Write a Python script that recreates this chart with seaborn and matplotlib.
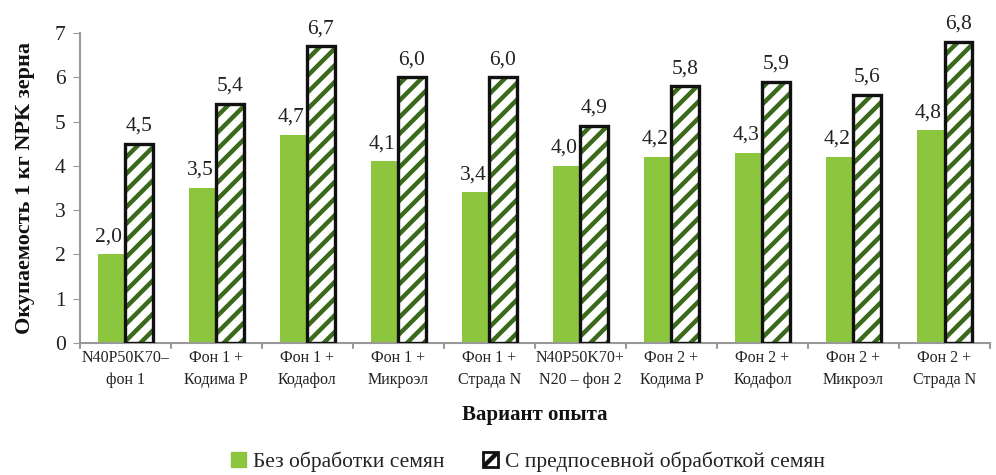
import matplotlib
matplotlib.use("Agg")
import matplotlib.pyplot as plt
import seaborn as sns
import pandas as pd
from matplotlib.patches import Rectangle, Patch

categories = ["N40P50K70–\nфон 1", "Фон 1 +\nКодима Р", "Фон 1 +\nКодафол", "Фон 1 +\nМикроэл",
              "Фон 1 +\nСтрада N", "N40P50K70+\nN20 – фон 2", "Фон 2 +\nКодима Р", "Фон 2 +\nКодафол",
              "Фон 2 +\nМикроэл", "Фон 2 +\nСтрада N"]
no_treat = [2.0, 3.5, 4.7, 4.1, 3.4, 4.0, 4.2, 4.3, 4.2, 4.8]
pre_treat = [4.5, 5.4, 6.7, 6.0, 6.0, 4.9, 5.8, 5.9, 5.6, 6.8]
series = ["Без обработки семян", "С предпосевной обработкой семян"]

df = pd.DataFrame({
    "cat": categories * 2,
    "val": no_treat + pre_treat,
    "ser": [series[0]] * len(categories) + [series[1]] * len(categories),
})

sns.set_style("white")
plt.rcParams["font.family"] = ["Liberation Serif", "DejaVu Serif"]
plt.rcParams["hatch.linewidth"] = 3.2

GREEN = "#8cc63f"
DARK = "#3b6a1c"

fig = plt.figure(figsize=(9.96, 4.75), dpi=100)
ax = fig.add_axes([0.080, 0.278, 0.914, 0.6525])
sns.barplot(data=df, x="cat", y="val", hue="ser", order=categories, hue_order=series,
            palette=[GREEN, "white"], width=0.6, gap=0, ax=ax, legend=False, saturation=1)

n = len(categories)
patches = [p for p in ax.patches if isinstance(p, Rectangle)]
for i, p in enumerate(patches[:2 * n]):
    p.set_linewidth(0)
    if i >= n:
        p.set_hatch("//")
        p.set_edgecolor(DARK)
        p.set_facecolor("white")
        ax.add_patch(Rectangle((p.get_x(), p.get_y()), p.get_width(), p.get_height(),
                               fill=False, edgecolor="#111111", linewidth=2.4, zorder=3))

for i, p in enumerate(patches[:2 * n]):
    v = p.get_height()
    dx = -0.03 if i < n else 0
    ax.text(p.get_x() + p.get_width() / 2 + dx, v + 0.18, f"{v:.1f}".replace(".", ","),
            ha="center", va="bottom", fontsize=15.5, color="#222222")

ax.set_ylim(0, 7)
ax.set_xlim(-0.5, n - 0.5)
ax.set_yticks(range(0, 8))
ax.tick_params(axis="y", labelsize=15.5, length=5, color="#999999", direction="out", left=True,
               pad=5, labelcolor="#222222")
ax.set_xticks([i for i in range(n)])
ax.set_xticklabels(categories, fontsize=11.5, linespacing=1.55, color="#222222")
ax.tick_params(axis="x", length=0, pad=5)
for xb in [i - 0.5 for i in range(n + 1)]:
    ax.plot([xb, xb], [0, -0.12], color="#999999", lw=1.5, clip_on=False)

for s in ["top", "right"]:
    ax.spines[s].set_visible(False)
for s in ["left", "bottom"]:
    ax.spines[s].set_color("#999999")
    ax.spines[s].set_linewidth(1.5)

ax.set_ylabel("Окупаемость 1 кг NPK зерна", fontsize=16, fontweight="bold", labelpad=14,
              color="#111111")
ax.set_xlabel("Вариант опыта", fontsize=15, fontweight="bold", labelpad=12, color="#111111")

handles = [Patch(facecolor=GREEN, edgecolor=GREEN),
           Patch(facecolor="white", edgecolor="#111111", hatch="//", linewidth=2)]
fig.legend(handles, series, loc="lower center", bbox_to_anchor=(0.53, -0.035), ncol=2,
           frameon=False, fontsize=15.5, handlelength=0.7, handleheight=0.7, handletextpad=0.3,
           columnspacing=1.8, labelcolor="#222222")

fig.savefig("out.png", dpi=100)
